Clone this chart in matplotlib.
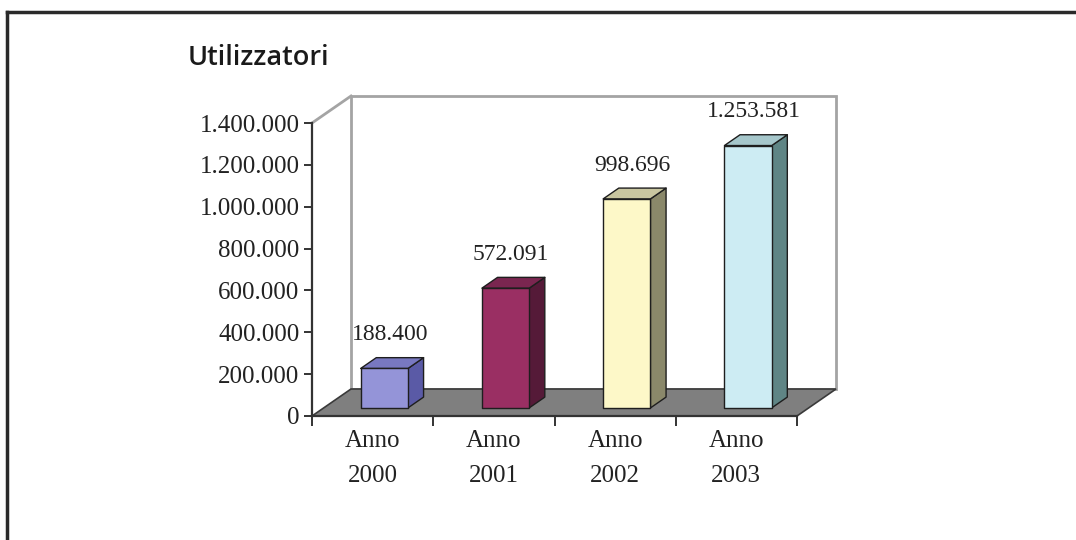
import matplotlib
matplotlib.use('Agg')
import matplotlib.pyplot as plt
from matplotlib.patches import Polygon
from matplotlib.ticker import FuncFormatter, FixedLocator
from matplotlib.lines import Line2D

# ---- data ----
categories = ['Anno\n2000', 'Anno\n2001', 'Anno\n2002', 'Anno\n2003']
values = [188400, 572091, 998696, 1253581]
value_labels = ['188.400', '572.091', '998.696', '1.253.581']
y_ticks = [0, 200000, 400000, 600000, 800000, 1000000, 1200000, 1400000]
title = 'Utilizzatori'

front_colors = ['#9494d8', '#9a2f63', '#fdf8c8', '#cdecf3']
top_colors = ['#7878c0', '#7a2650', '#c9c6a0', '#a6c7cb']
side_colors = ['#5a5aa6', '#551a38', '#8a886a', '#5f8585']

plt.rcParams['font.family'] = ['Liberation Serif', 'DejaVu Serif']

W, H = 1076, 540
fig = plt.figure(figsize=(W / 100, H / 100), dpi=100)
fig.patch.set_facecolor('white')

# front plane of the 3-D box
ax = fig.add_axes([312 / W, 1 - 416 / H, 485 / W, 293 / H])
ymax = y_ticks[-1]
ax.set_xlim(-0.5, len(values) - 0.5)
ax.set_ylim(0, ymax)
ax.patch.set_visible(False)

# oblique depth (in data units) : ~39 px right, ~27 px up
DX = 39 / 485 * len(values)
DY = 27 / 293 * ymax


def P(x, y, d):
    return (x + d * DX, y + d * DY)


xl, xr = -0.5, len(values) - 0.5
wall_col = '#a4a4a4'
# back wall
ax.add_patch(Polygon([P(xl, 0, 1), P(xr, 0, 1), P(xr, ymax, 1), P(xl, ymax, 1)],
                     closed=True, fc='white', ec=wall_col, lw=2, clip_on=False, zorder=1))
# left wall top edge
ax.add_line(Line2D(*zip(P(xl, ymax, 0), P(xl, ymax, 1)), color=wall_col, lw=2,
                   clip_on=False, zorder=1))
# floor
ax.add_patch(Polygon([P(xl, 0, 0), P(xr, 0, 0), P(xr, 0, 1), P(xl, 0, 1)],
                     closed=True, fc='#7f7f7f', ec='#3a3a3a', lw=1.2, clip_on=False, zorder=2))

bw = 0.39
d0, d1 = 0.30, 0.70
for i, v in enumerate(values):
    x0, x1 = i - bw / 2, i + bw / 2
    side = [P(x1, 0, d0), P(x1, 0, d1), P(x1, v, d1), P(x1, v, d0)]
    top = [P(x0, v, d0), P(x1, v, d0), P(x1, v, d1), P(x0, v, d1)]
    front = [P(x0, 0, d0), P(x1, 0, d0), P(x1, v, d0), P(x0, v, d0)]
    for pts, c in ((side, side_colors[i]), (top, top_colors[i]), (front, front_colors[i])):
        ax.add_patch(Polygon(pts, closed=True, fc=c, ec='#1e1e1e', lw=1.0,
                             clip_on=False, zorder=3, joinstyle='round'))
    ax.annotate(value_labels[i], xy=(i, v), xytext=(12.5, 30), textcoords='offset points',
                ha='center', va='center', fontsize=17, color='#222222', zorder=5)

# axes styling
for s in ('top', 'right'):
    ax.spines[s].set_visible(False)
for s in ('left', 'bottom'):
    ax.spines[s].set_color('#333333')
    ax.spines[s].set_linewidth(1.6)
    ax.spines[s].set_zorder(4)

ax.yaxis.set_major_locator(FixedLocator(y_ticks))
ax.yaxis.set_major_formatter(FuncFormatter(lambda v, p: f"{v:,.0f}".replace(',', '.')))
ax.tick_params(axis='y', direction='out', length=6, width=1.4, color='#333333', pad=3,
               labelsize=18, labelcolor='#222222')

ax.set_xticks(range(len(categories)))
ax.set_xticklabels(categories, linespacing=1.75)
ax.set_xticks([k - 0.5 for k in range(len(categories) + 1)], minor=True)
ax.tick_params(axis='x', which='major', length=0, pad=10, labelsize=18, labelcolor='#222222')
ax.tick_params(axis='x', which='minor', direction='out', length=7, width=1.4, color='#333333')

# title
fig.text(188 / W, 1 - 58 / H, title, family=['Open Sans', 'DejaVu Sans'], fontweight='semibold',
         fontsize=19.5, color='#1a1a1a', ha='left', va='center')

# outer frame (left and top)
fig.add_artist(Line2D([6.5 / W, 6.5 / W], [0, 1 - 12 / H], transform=fig.transFigure,
                      color='#2a2a2a', lw=2.5))
fig.add_artist(Line2D([6.5 / W, 1], [1 - 12 / H, 1 - 12 / H], transform=fig.transFigure,
                      color='#2a2a2a', lw=2.5))

fig.savefig('out.png', dpi=100, facecolor='white')
